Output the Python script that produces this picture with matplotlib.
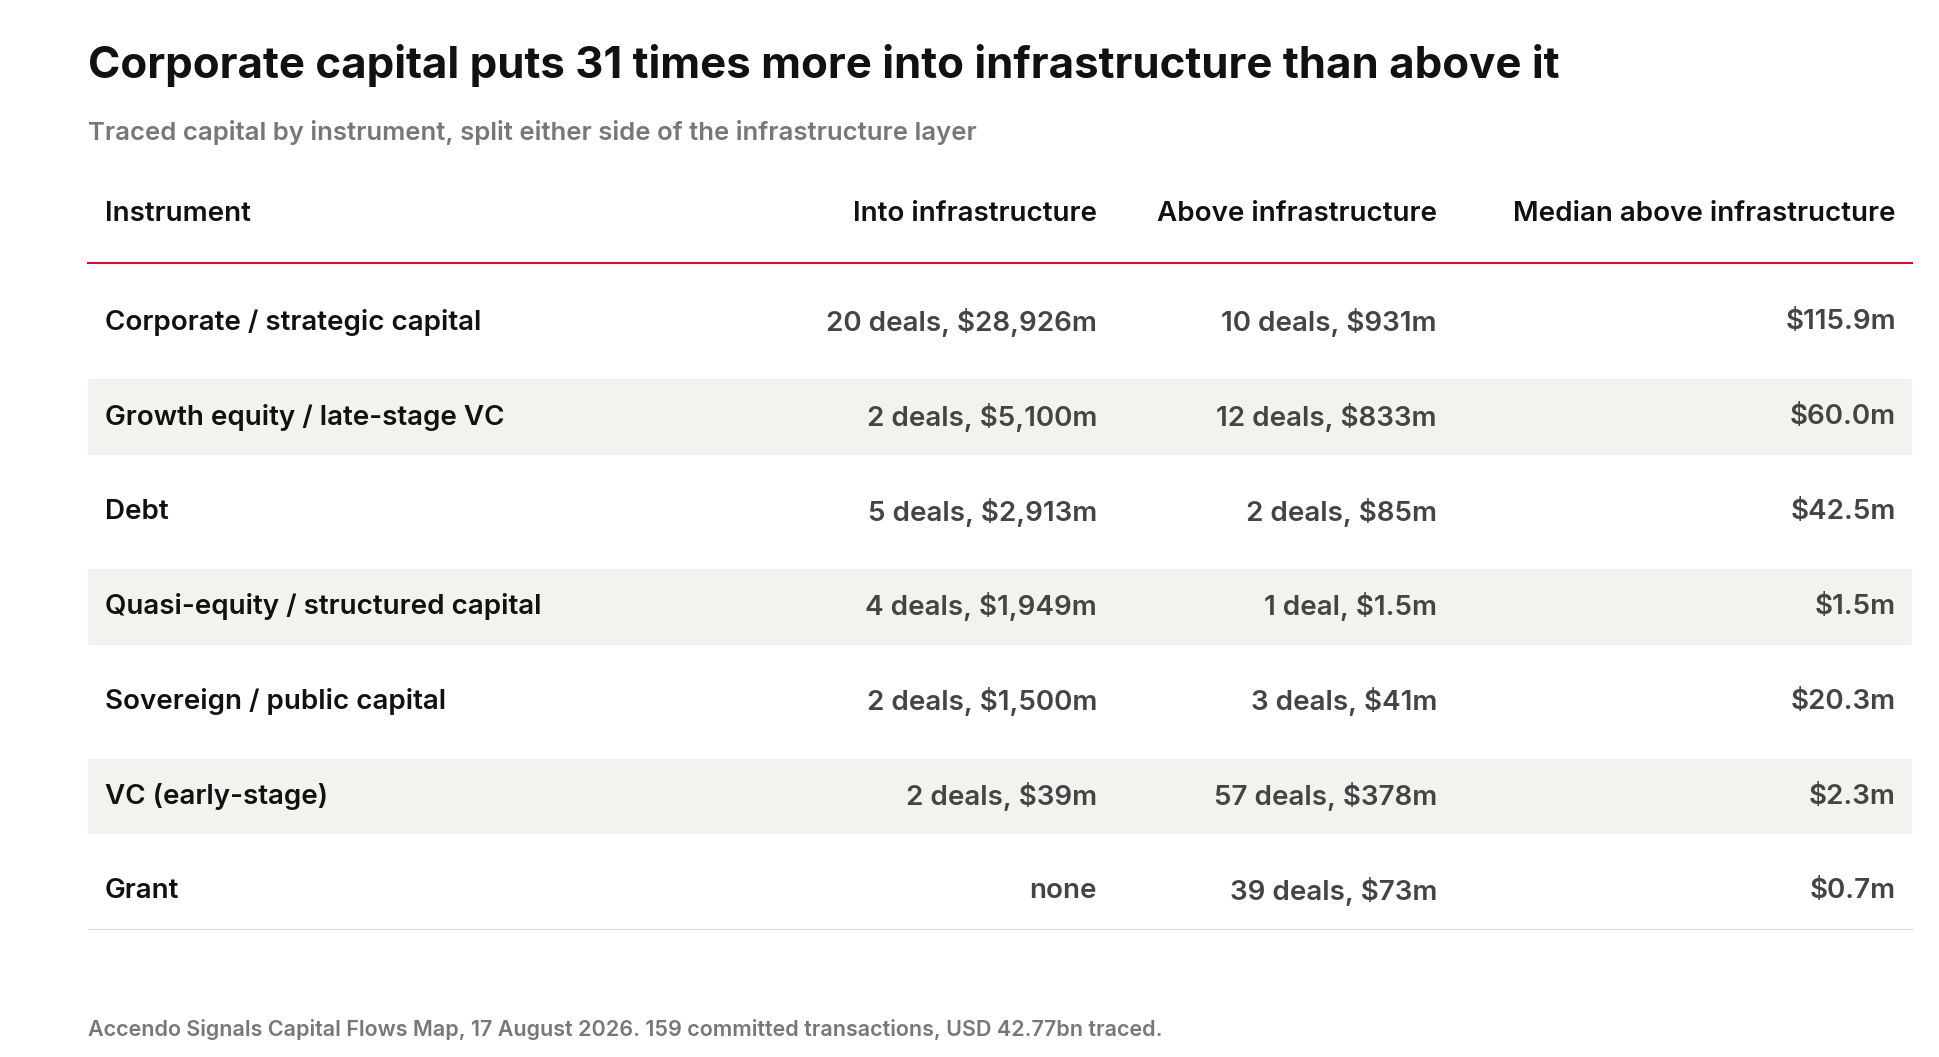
import matplotlib
matplotlib.use("Agg")
import matplotlib.pyplot as plt
from matplotlib.patches import Rectangle

title = "Corporate capital puts 31 times more into infrastructure than above it"
subtitle = "Traced capital by instrument, split either side of the infrastructure layer"
footer = "Accendo Signals Capital Flows Map, 17 August 2026. 159 committed transactions, USD 42.77bn traced."
headers = ["Instrument", "Into infrastructure", "Above infrastructure", "Median above infrastructure"]
instruments = ["Corporate / strategic capital", "Growth equity / late-stage VC", "Debt",
               "Quasi-equity / structured capital", "Sovereign / public capital",
               "VC (early-stage)", "Grant"]
into_infra = ["20 deals, $28,926m", "2 deals, $5,100m", "5 deals, $2,913m", "4 deals, $1,949m",
              "2 deals, $1,500m", "2 deals, $39m", "none"]
above_infra = ["10 deals, $931m", "12 deals, $833m", "2 deals, $85m", "1 deal, $1.5m",
               "3 deals, $41m", "57 deals, $378m", "39 deals, $73m"]
median_above = ["$115.9m", "$60.0m", "$42.5m", "$1.5m", "$20.3m", "$2.3m", "$0.7m"]

plt.rcParams['font.family'] = ['Inter', 'DejaVu Sans']
W, H = 1535, 836
fig = plt.figure(figsize=(19.4, 10.57), dpi=100)
ax = fig.add_axes([0, 0, 1, 1])
ax.set_xlim(0, W); ax.set_ylim(H, 0); ax.axis("off")

ax.text(70, 52, title, fontsize=31.5, fontweight="bold", color="#111", va="center")
ax.text(70, 105, subtitle, fontsize=18.5, fontweight="semibold", color="#777", va="center")

colx = [83, 868, 1137, 1500]
ha = ["left", "right", "right", "right"]
for x, h, a in zip(colx, headers, ha):
    ax.text(x, 169, h, fontsize=20, fontweight="semibold", color="#111", ha=a, va="center")
ax.plot([70, 1513], [208, 208], color="#d0131b", lw=1.5)

y0, dy = 255, 75
for i, row in enumerate(zip(instruments, into_infra, above_infra, median_above)):
    y = y0 + i * dy
    if i % 2 == 1:
        ax.add_patch(Rectangle((70, y - 30), 1443, 60, color="#f3f2ef", lw=0, zorder=0))
    for j, (x, v, a) in enumerate(zip(colx, row, ha)):
        ax.text(x, y, v, fontsize=20, fontweight="semibold",
                color="#111" if j == 0 else "#444", ha=a, va="center")
ax.plot([70, 1513], [735, 735], color="#ddd", lw=1)

ax.text(70, 814, footer, fontsize=15.5, fontweight="semibold", color="#777", va="center")
fig.savefig("out.png", dpi=100)
